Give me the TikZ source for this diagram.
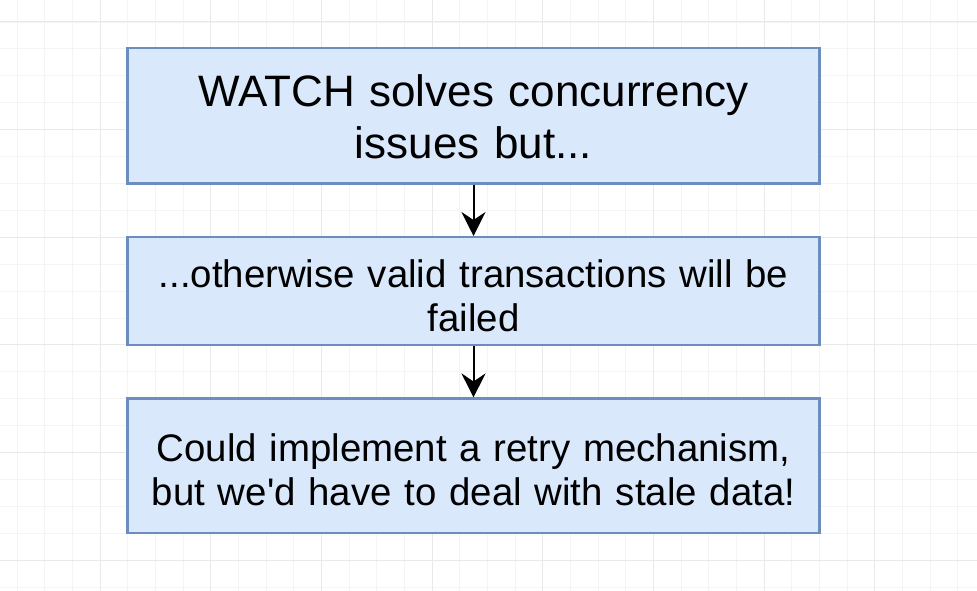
\documentclass[tikz,border=0pt]{standalone}
\usepackage{fontspec}
\setmainfont{Liberation Sans}
\usetikzlibrary{arrows.meta}
\definecolor{boxfill}{HTML}{DAE8FC}
\definecolor{boxline}{HTML}{6C8EBF}
\definecolor{gridminor}{HTML}{F4F4F4}
\definecolor{gridmajor}{HTML}{E9E9E9}
\begin{document}
\begin{tikzpicture}[x=1pt,y=-1pt,
  stepbox/.style={draw=boxline, fill=boxfill, line width=2.4pt,
    minimum width=692pt, inner sep=0pt},
  label/.style={inner sep=0pt, align=center, text width=680pt},
  bigtext/.style={font=\fontsize{44}{52}\selectfont},
  smalltext/.style={font=\fontsize{38.4}{43.5}\selectfont},
  flow/.style={draw=black, line width=2pt,
    -{Stealth[length=24pt, width=24pt, inset=8pt]}}]
  % canvas
  \fill[white] (0,0) rectangle (977,591);
  \useasboundingbox (0,0) rectangle (977,591);
  % background grid
  \foreach \i in {-3,...,31} {
    \draw[gridminor, line width=0.8pt] ({100+27.67*\i},0) -- ({100+27.67*\i},591);
  }
  \foreach \j in {-1,...,20} {
    \draw[gridminor, line width=0.8pt] (0,{560-26.9*\j}) -- (977,{560-26.9*\j});
  }
  \foreach \i in {0,...,7} {
    \draw[gridmajor, line width=1pt] ({100+110.68*\i},0) -- ({100+110.68*\i},591);
  }
  \foreach \j in {0,...,5} {
    \draw[gridmajor, line width=1pt] (0,{560-107.6*\j}) -- (977,{560-107.6*\j});
  }
  % flow boxes
  \node[stepbox, minimum height=135pt] (watch) at (473.5,115.8) {};
  \node[stepbox, minimum height=107.6pt] (failed) at (473.5,291) {};
  \node[stepbox, minimum height=134.5pt] (retry) at (473.5,465.9) {};
  % box texts
  \node[label, bigtext] (watchtext) at ([yshift=-1pt]watch.center)
    {WATCH solves concurrency\\issues but...};
  \node[label, smalltext] (failedtext) at ([yshift=-5pt]failed.center)
    {...otherwise valid transactions will be\\failed};
  \node[label, smalltext] (retrytext) at ([yshift=-4pt]retry.center)
    {Could implement a retry mechanism,\\but we\textquotesingle d have to deal with stale data!};
  % connectors
  \draw[flow] (watch.south) -- (failed.north);
  \draw[flow] (failed.south) -- (retry.north);
\end{tikzpicture}
\end{document}
